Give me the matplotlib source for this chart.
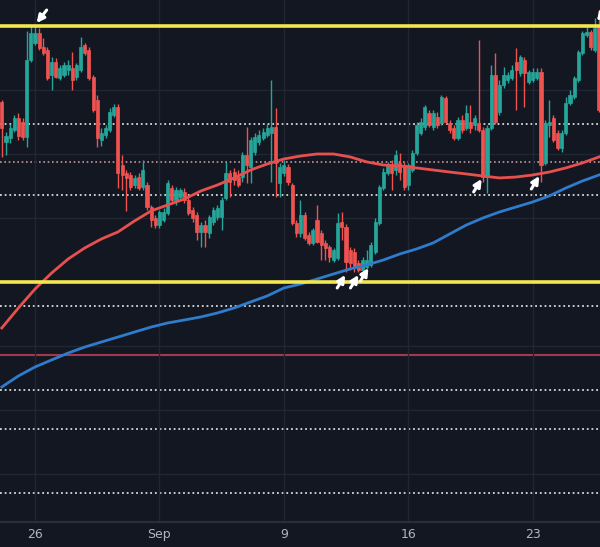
import numpy as np
import matplotlib.pyplot as plt

# 4H bars, index 0 = first bar of Aug 26
bars = np.arange(-8, 137)

opens = [1.11406, 1.11094, 1.11125, 1.11188, 1.11281, 1.11250, 1.11133, 1.11734, 1.11867, 1.11945,
         1.11836, 1.11813, 1.11617, 1.11719, 1.11594, 1.11617, 1.11656, 1.11672, 1.11602, 1.11656,
         1.11852, 1.11813, 1.11602, 1.11422, 1.11109, 1.11148, 1.11188, 1.11305, 1.11367, 1.10914,
         1.10852, 1.10836, 1.10758, 1.10820, 1.10742, 1.10758, 1.10586, 1.10500, 1.10445, 1.10484,
         1.10539, 1.10734, 1.10641, 1.10664, 1.10703, 1.10641, 1.10563, 1.10523, 1.10391, 1.10445,
         1.10383, 1.10469, 1.10508, 1.10508, 1.10656, 1.10852, 1.10859, 1.10820, 1.10820, 1.10992,
         1.10898, 1.11016, 1.11094, 1.11125, 1.11148, 1.11164, 1.11211, 1.10773, 1.10852, 1.10898,
         1.10758, 1.10461, 1.10383, 1.10523, 1.10367, 1.10305, 1.10484, 1.10383, 1.10305, 1.10273,
         1.10172, 1.10188, 1.10469, 1.10430, 1.10250, 1.10234, 1.10148, 1.10094, 1.10117, 1.10133,
         1.10234, 1.10461, 1.10734, 1.10852, 1.10914, 1.10875, 1.10930, 1.10914, 1.10758, 1.10875,
         1.11008, 1.11164, 1.11211, 1.11320, 1.11211, 1.11289, 1.11242, 1.11438, 1.11242, 1.11203,
         1.11125, 1.11266, 1.11203, 1.11250, 1.11227, 1.11242, 1.11188, 1.10820, 1.11203, 1.11617,
         1.11328, 1.11539, 1.11578, 1.11594, 1.11719, 1.11633, 1.11734, 1.11563, 1.11578, 1.11594,
         1.11641, 1.10930, 1.11227, 1.11281, 1.11164, 1.11047, 1.11164, 1.11398, 1.11445, 1.11578,
         1.11789, 1.11930, 1.11953, 1.11813, 1.11992]
highs = [1.11422, 1.11172, 1.11234, 1.11305, 1.11320, 1.11281, 1.11961, 1.12000, 1.12000, 1.11984,
         1.11906, 1.11836, 1.11758, 1.11750, 1.11695, 1.11719, 1.11734, 1.11797, 1.11711, 1.11914,
         1.11867, 1.11836, 1.11617, 1.11461, 1.11203, 1.11227, 1.11359, 1.11391, 1.11391, 1.10992,
         1.10875, 1.10859, 1.10836, 1.10852, 1.10953, 1.10781, 1.10602, 1.10523, 1.10563, 1.10578,
         1.10797, 1.10758, 1.10742, 1.10734, 1.10734, 1.10664, 1.10586, 1.10547, 1.10469, 1.10484,
         1.10523, 1.10586, 1.10602, 1.10664, 1.10938, 1.10875, 1.10891, 1.10875, 1.11016, 1.11211,
         1.11133, 1.11164, 1.11188, 1.11203, 1.11234, 1.11578, 1.11359, 1.10930, 1.10953, 1.10922,
         1.10773, 1.10484, 1.10641, 1.10547, 1.10391, 1.10422, 1.10602, 1.10406, 1.10328, 1.10289,
         1.10266, 1.10539, 1.10547, 1.10453, 1.10273, 1.10266, 1.10172, 1.10195, 1.10250, 1.10313,
         1.10500, 1.10758, 1.10891, 1.10938, 1.10953, 1.11031, 1.11008, 1.10938, 1.10930, 1.11031,
         1.11250, 1.11281, 1.11383, 1.11344, 1.11344, 1.11328, 1.11461, 1.11453, 1.11266, 1.11227,
         1.11289, 1.11305, 1.11383, 1.11383, 1.11305, 1.11891, 1.11211, 1.11227, 1.11695, 1.11789,
         1.11578, 1.11680, 1.11641, 1.11695, 1.11828, 1.11773, 1.11758, 1.11656, 1.11672, 1.11672,
         1.11672, 1.11266, 1.11422, 1.11305, 1.11188, 1.11188, 1.11445, 1.11500, 1.11609, 1.11813,
         1.11961, 1.11992, 1.11969, 1.12063, 1.12125]
lows = [1.10977, 1.10992, 1.11086, 1.11172, 1.11109, 1.11109, 1.11055, 1.11719, 1.11852, 1.11813,
        1.11773, 1.11578, 1.11500, 1.11594, 1.11578, 1.11602, 1.11617, 1.11500, 1.11578, 1.11641,
        1.11773, 1.11578, 1.11328, 1.11055, 1.11063, 1.11125, 1.11172, 1.11289, 1.10734, 1.10719,
        1.10555, 1.10719, 1.10734, 1.10719, 1.10719, 1.10563, 1.10430, 1.10422, 1.10422, 1.10469,
        1.10523, 1.10617, 1.10602, 1.10641, 1.10617, 1.10523, 1.10469, 1.10328, 1.10273, 1.10273,
        1.10344, 1.10445, 1.10484, 1.10406, 1.10641, 1.10664, 1.10758, 1.10742, 1.10781, 1.10773,
        1.10773, 1.10992, 1.11070, 1.11109, 1.11133, 1.10781, 1.10664, 1.10664, 1.10828, 1.10758,
        1.10445, 1.10352, 1.10352, 1.10328, 1.10289, 1.10289, 1.10305, 1.10172, 1.10172, 1.10156,
        1.10156, 1.10172, 1.10328, 1.10078, 1.10094, 1.10078, 1.10078, 1.10078, 1.10102, 1.10117,
        1.10219, 1.10445, 1.10719, 1.10836, 1.10719, 1.10836, 1.10797, 1.10719, 1.10719, 1.10859,
        1.10992, 1.11148, 1.11188, 1.11211, 1.11188, 1.11203, 1.11227, 1.11234, 1.11164, 1.11109,
        1.11109, 1.11164, 1.11188, 1.11164, 1.11188, 1.11172, 1.10781, 1.10695, 1.11188, 1.11234,
        1.11305, 1.11516, 1.11555, 1.11578, 1.11344, 1.11609, 1.11367, 1.11547, 1.11563, 1.11578,
        1.10781, 1.10914, 1.11133, 1.11094, 1.11031, 1.11016, 1.11148, 1.11383, 1.11430, 1.11563,
        1.11773, 1.11914, 1.11813, 1.11797, 1.11328]
closes = [1.11203, 1.11141, 1.11203, 1.11281, 1.11141, 1.11133, 1.11734, 1.11945, 1.11945, 1.11828,
          1.11789, 1.11594, 1.11719, 1.11602, 1.11672, 1.11695, 1.11695, 1.11578, 1.11695, 1.11836,
          1.11789, 1.11594, 1.11344, 1.11125, 1.11164, 1.11203, 1.11328, 1.11367, 1.10852, 1.10836,
          1.10813, 1.10742, 1.10813, 1.10734, 1.10875, 1.10586, 1.10484, 1.10445, 1.10547, 1.10547,
          1.10773, 1.10641, 1.10719, 1.10719, 1.10641, 1.10539, 1.10500, 1.10391, 1.10445, 1.10391,
          1.10508, 1.10563, 1.10578, 1.10641, 1.10852, 1.10781, 1.10797, 1.10758, 1.10992, 1.10914,
          1.11109, 1.11133, 1.11148, 1.11172, 1.11203, 1.11211, 1.10930, 1.10898, 1.10914, 1.10781,
          1.10461, 1.10383, 1.10523, 1.10344, 1.10305, 1.10406, 1.10313, 1.10289, 1.10266, 1.10195,
          1.10250, 1.10461, 1.10430, 1.10156, 1.10148, 1.10117, 1.10094, 1.10172, 1.10172, 1.10289,
          1.10469, 1.10742, 1.10859, 1.10914, 1.10852, 1.10992, 1.10859, 1.10742, 1.10914, 1.11008,
          1.11227, 1.11250, 1.11367, 1.11227, 1.11320, 1.11227, 1.11445, 1.11250, 1.11188, 1.11125,
          1.11266, 1.11188, 1.11320, 1.11203, 1.11281, 1.11188, 1.10820, 1.11203, 1.11617, 1.11250,
          1.11539, 1.11617, 1.11617, 1.11656, 1.11656, 1.11758, 1.11633, 1.11641, 1.11641, 1.11641,
          1.10914, 1.11242, 1.11250, 1.11109, 1.11047, 1.11164, 1.11398, 1.11461, 1.11594, 1.11797,
          1.11945, 1.11953, 1.11836, 1.11984, 1.11344]

# moving averages, read every 4 bars
ma_bars = np.arange(-8, 137, 4)
ma_red = [1.09641, 1.09797, 1.09945, 1.10070, 1.10180, 1.10266, 1.10336, 1.10391, 1.10477, 1.10555,
          1.10602, 1.10648, 1.10711, 1.10758, 1.10813, 1.10875, 1.10922, 1.10961, 1.10984, 1.11000,
          1.11000, 1.10977, 1.10938, 1.10914, 1.10906, 1.10891, 1.10875, 1.10859, 1.10844, 1.10828,
          1.10813, 1.10820, 1.10836, 1.10859, 1.10891, 1.10930, 1.10977]
ma_blue = [1.09180, 1.09266, 1.09336, 1.09391, 1.09445, 1.09492, 1.09531, 1.09570, 1.09609, 1.09648,
           1.09680, 1.09703, 1.09727, 1.09758, 1.09797, 1.09844, 1.09891, 1.09953, 1.09984, 1.10023,
           1.10063, 1.10102, 1.10133, 1.10172, 1.10219, 1.10258, 1.10305, 1.10375, 1.10445, 1.10500,
           1.10547, 1.10586, 1.10625, 1.10672, 1.10734, 1.10789, 1.10836]

yellow_levels = [1.1200, 1.1000]
dotted_levels = [1.11234, 1.10680, 1.09813, 1.09156, 1.08852, 1.08352]
pink_level = 1.10938
red_level = 1.09430
grid_levels = np.arange(1.0850, 1.1201, 0.0050)

week_bars = [0, 30, 60, 90, 120]
week_labels = ['26', 'Sep', '9', '16', '23']

# arrows: target bar, price, and which side the tail sits on
arrow_bars = [0.4, 74.8, 78.0, 80.4, 107.7, 121.6, 135.5]
arrow_prices = [1.12023, 1.10055, 1.10055, 1.10109, 1.10805, 1.10828, 1.12039]
arrow_from_above = [True, False, False, False, False, False, True]

bg = '#131722'
up_col = '#26a69a'
down_col = '#ef5350'

fig = plt.figure(figsize=(6, 5.47), dpi=100, facecolor=bg)
ax = fig.add_axes([0, 25 / 547, 1, 522 / 547], facecolor=bg)

opens = np.array(opens)
closes = np.array(closes)
cols = np.where(closes >= opens, up_col, down_col)

# grid
ax.set_yticks(grid_levels)
ax.set_xticks(week_bars)
ax.set_xticklabels(week_labels)
ax.grid(True, color='#222633', lw=1, zorder=0)

for lv in dotted_levels:
    ax.axhline(lv, color='#d9d9d9', lw=1.3, ls=(0, (1, 1.6)), zorder=1)
ax.axhline(pink_level, color='#c9959c', lw=1.2, ls=(0, (1, 1.6)), zorder=1)
ax.axhline(red_level, color='#a33a4c', lw=1.5, zorder=1)

# candles
ax.vlines(bars, lows, highs, colors=cols, lw=1.0, zorder=2)
ax.bar(bars, np.abs(closes - opens), bottom=np.minimum(opens, closes), width=0.75,
       color=cols, edgecolor=cols, linewidth=0.5, zorder=2.1)

ax.plot(ma_bars, ma_red, color='#e8504f', lw=2.0, zorder=3)
ax.plot(ma_bars, ma_blue, color='#2f7bcc', lw=2.0, zorder=3)

for lv in yellow_levels:
    ax.axhline(lv, color='#f4e64e', lw=2.6, zorder=3.5)

for b, p, above in zip(arrow_bars, arrow_prices, arrow_from_above):
    off = (10, 13) if above else (-8, -13)
    ax.annotate('', xy=(b, p), xytext=off, textcoords='offset pixels',
                arrowprops=dict(arrowstyle='-|>', color='white', lw=2.2,
                                mutation_scale=11, shrinkA=0, shrinkB=0),
                annotation_clip=False, zorder=5)

ax.set_xlim(-8.44, 136.24)
ax.set_ylim(1.08125, 1.12203)

ax.tick_params(axis='y', left=False, labelleft=False)
ax.tick_params(axis='x', length=0, pad=4.5, labelcolor='#b2b5be', labelsize=9)
for s in ['top', 'left', 'right']:
    ax.spines[s].set_visible(False)
ax.spines['bottom'].set_color('#2a2e39')
ax.spines['bottom'].set_linewidth(1.6)

fig.savefig('out.png', dpi=100, facecolor=bg)
